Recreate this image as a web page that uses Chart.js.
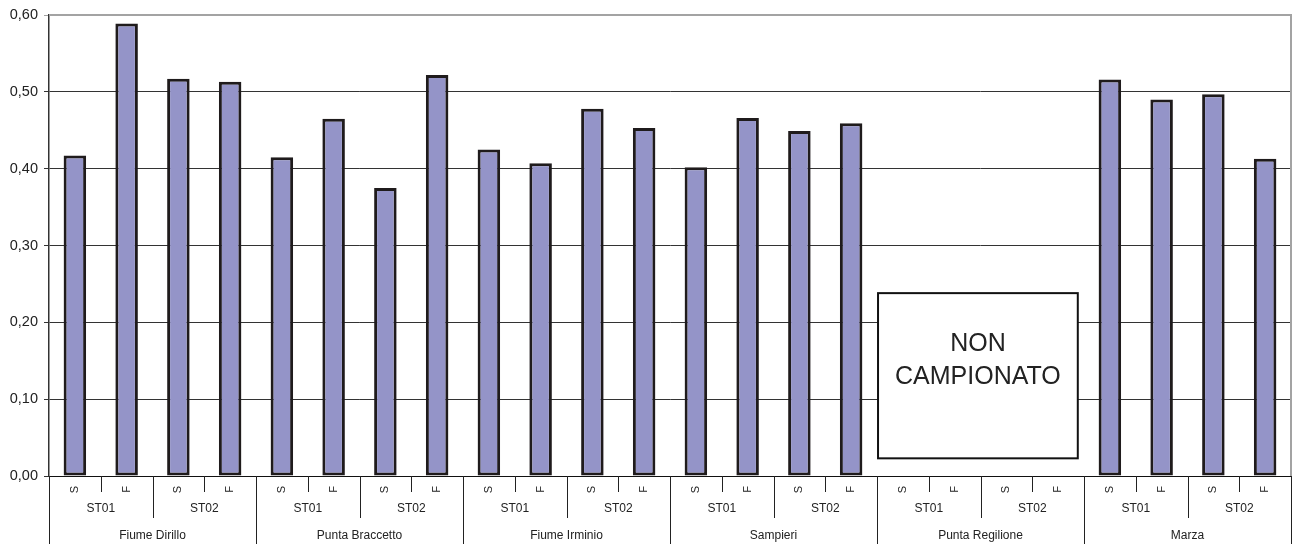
<!DOCTYPE html>
<html>
<head>
<meta charset="utf-8">
<script src="https://cdn.jsdelivr.net/npm/chart.js@4"></script>
<style>
  body { margin: 0; background: #fff; }
  #wrap { width: 1294px; height: 544px; position: relative; }
</style>
</head>
<body>
<div id="wrap"><canvas id="chart"></canvas></div>
<script>
const locations = ['Fiume Dirillo', 'Punta Braccetto', 'Fiume Irminio', 'Sampieri', 'Punta Regilione', 'Marza'];
const stations = ['ST01', 'ST02'];
const seasons = ['S', 'F'];

// one value per location / station / season, in that order
const values = [
    0.417, 0.589, 0.517, 0.513,   // Fiume Dirillo
    0.415, 0.465, 0.375, 0.522,   // Punta Braccetto
    0.425, 0.407, 0.478, 0.453,   // Fiume Irminio
    0.402, 0.466, 0.449, 0.459,   // Sampieri
    null, null, null, null,       // Punta Regilione
    0.516, 0.490, 0.497, 0.413    // Marza
];
const yTicks = [0, 0.1, 0.2, 0.3, 0.4, 0.5, 0.6];
const notSampled = 'Punta Regilione';
const notSampledText = ['NON', 'CAMPIONATO'];

const labels = [];
locations.forEach(() => stations.forEach(() => seasons.forEach(s => labels.push(s))));

const fmt = v => v.toFixed(2).replace('.', ',');

// station / location rows under the S-F labels, plus separators
const groupAxis = {
    id: 'groupAxis',
    afterDraw(chart) {
        const ctx = chart.ctx;
        const x = chart.scales.x;
        const y = chart.scales.y;
        const top = chart.chartArea.bottom;
        const per = seasons.length;
        const perLoc = per * stations.length;
        ctx.save();
        ctx.strokeStyle = '#222';
        ctx.lineWidth = 1;
        for (let k = 0; k <= labels.length; k++) {
            const px = Math.round(x.getPixelForValue(k - 0.5)) + 0.5;
            let len = 16;
            if (k % perLoc === 0) len = chart.height - top;
            else if (k % per === 0) len = 42;
            ctx.beginPath();
            ctx.moveTo(px, top);
            ctx.lineTo(px, top + len);
            ctx.stroke();
        }
        ctx.fillStyle = '#222';
        ctx.textAlign = 'center';
        ctx.textBaseline = 'middle';
        ctx.font = '12px "Liberation Sans", Arial, sans-serif';
        locations.forEach((loc, l) => {
            stations.forEach((st, s) => {
                const i = l * perLoc + s * per;
                ctx.fillText(st, x.getPixelForValue(i + (per - 1) / 2), top + 33);
            });
            ctx.fillText(loc, x.getPixelForValue(l * perLoc + (perLoc - 1) / 2), top + 60);
        });

        // plot area frame: grey top and right edge
        const a = chart.chartArea;
        ctx.strokeStyle = '#a3a3a3';
        ctx.lineWidth = 2;
        ctx.beginPath();
        ctx.moveTo(a.left, a.top);
        ctx.lineTo(a.right, a.top);
        ctx.lineTo(a.right, a.bottom);
        ctx.stroke();

        // box over the location with no samples
        const l = locations.indexOf(notSampled) * perLoc;
        const bx0 = x.getPixelForValue(l - 0.48);
        const bx1 = x.getPixelForValue(l + 3.38);
        const by0 = y.getPixelForValue(0.238);
        const by1 = y.getPixelForValue(0.023);
        ctx.fillStyle = '#fff';
        ctx.fillRect(bx0, by0, bx1 - bx0, by1 - by0);
        ctx.strokeStyle = '#111';
        ctx.lineWidth = 2;
        ctx.strokeRect(bx0, by0, bx1 - bx0, by1 - by0);
        ctx.fillStyle = '#222';
        ctx.font = '25px "Liberation Sans", Arial, sans-serif';
        const cx = (bx0 + bx1) / 2;
        ctx.fillText(notSampledText[0], cx, by0 + 51);
        ctx.fillText(notSampledText[1], cx, by0 + 84);
        ctx.restore();
    }
};

new Chart(document.getElementById('chart'), {
    type: 'bar',
    data: {
        labels: labels,
        datasets: [{
            data: values,
            backgroundColor: '#9494c8',
            borderColor: '#1f1b1c',
            borderWidth: 3,
            borderSkipped: false,
            categoryPercentage: 1,
            barPercentage: 0.435
        }]
    },
    options: {
        responsive: true,
        maintainAspectRatio: false,
        animation: false,
        layout: { padding: { top: 15, right: 3, left: 0, bottom: 0 } },
        plugins: { legend: { display: false }, tooltip: { enabled: false } },
        scales: {
            x: {
                grid: { display: false, drawTicks: false },
                border: { display: true, color: '#111', width: 1 },
                ticks: {
                    autoSkip: false,
                    minRotation: 90,
                    maxRotation: 90,
                    padding: 10,
                    color: '#222',
                    font: { size: 11 }
                },
                afterFit(scale) { scale.height = 68; }
            },
            y: {
                min: 0,
                max: 0.6,
                afterBuildTicks(scale) { scale.ticks = yTicks.map(v => ({ value: v })); },
                grid: {
                    color: ctx => ctx.tick && ctx.tick.value >= 0.6 ? '#a3a3a3' : '#333',
                    lineWidth: 1,
                    tickLength: 5
                },
                border: { display: true, color: '#333', width: 1.5 },
                ticks: {
                    padding: 6,
                    color: '#222',
                    font: { size: 14.5 },
                    callback: v => fmt(v)
                },
                afterFit(scale) { scale.width = 49; }
            }
        }
    },
    plugins: [groupAxis]
});
</script>
</body>
</html>
